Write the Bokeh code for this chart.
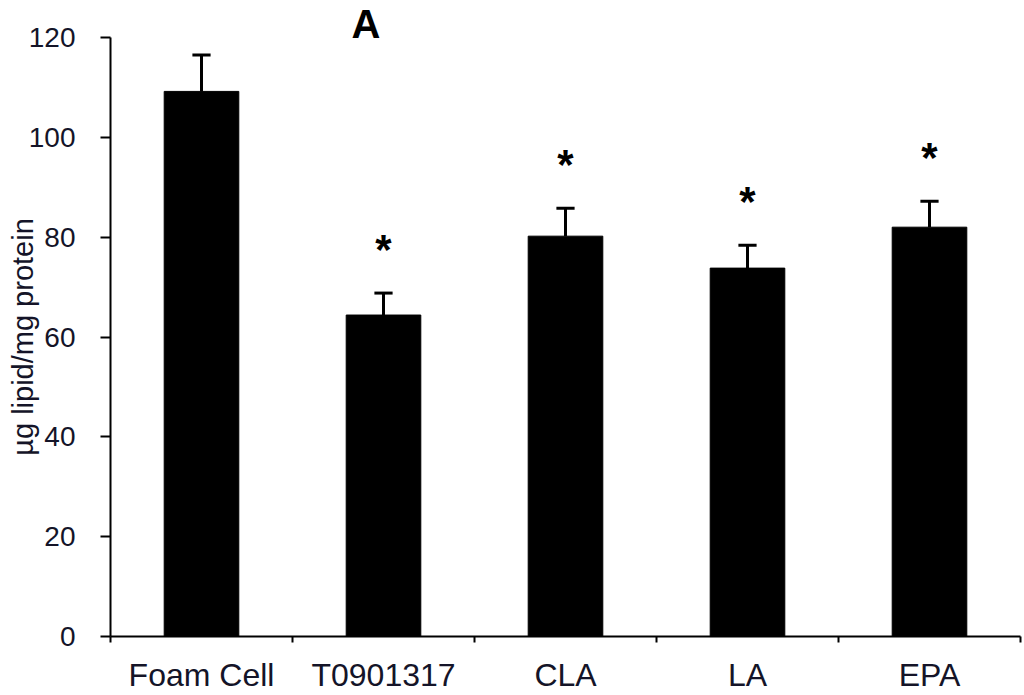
from bokeh.plotting import figure
from bokeh.models import ColumnDataSource, FixedTicker, Range1d
from bokeh.core.properties import value
from bokeh.embed import file_html
from bokeh.resources import INLINE

# ---- data ----
categories = ["Foam Cell", "T0901317", "CLA", "LA", "EPA"]
means = [109.2, 64.4, 80.2, 73.8, 82.0]
sem = [7.3, 4.4, 5.6, 4.6, 5.2]
significant = [False, True, True, True, True]
y_ticks = [0, 20, 40, 60, 80, 100, 120]
panel_label = "A"
y_title = "\u00b5g lipid/mg protein"

# ---- derived ----
xs = [i + 0.5 for i in range(len(categories))]
uppers = [m + s for m, s in zip(means, sem)]
BAR_W = 0.41
CAP = 0.05
STAR_GAP = 8.8
src = ColumnDataSource(dict(x=xs, top=means, upper=uppers,
                            cl=[x - CAP for x in xs], cr=[x + CAP for x in xs]))
star_x = [x for x, s in zip(xs, significant) if s]
star_y = [u + STAR_GAP for u, s in zip(uppers, significant) if s]
star_src = ColumnDataSource(dict(x=star_x, y=star_y, t=["*"] * len(star_x)))

FONT = "Liberation Sans"
TXT = "#141428"

p = figure(width=1022, height=695, output_backend="svg", toolbar_location=None,
           x_range=Range1d(0, len(categories)), y_range=Range1d(0, 120),
           min_border_left=110, min_border_right=2, min_border_top=37,
           min_border_bottom=50)
p.outline_line_color = None
p.grid.visible = False
p.background_fill_color = "white"
p.border_fill_color = "white"

# panel letter as the plot title
p.title.text = panel_label
p.title.text_font = FONT
p.title.text_font_size = "40px"
p.title.text_font_style = "bold"
p.title.text_color = "black"
p.title.align = "left"
p.title.offset = 241
p.title.standoff = -16

p.vbar(x="x", top="top", width=BAR_W, bottom=0, source=src,
       fill_color="black", line_color="black")
p.segment(x0="x", y0="top", x1="x", y1="upper", source=src,
          line_color="black", line_width=3)
p.segment(x0="cl", y0="upper", x1="cr", y1="upper", source=src,
          line_color="black", line_width=3)
p.text(x="x", y="y", text="t", source=star_src, text_align="center",
       text_baseline="alphabetic", text_font=value(FONT),
       text_font_size="42px", text_font_style="bold", text_color="black")

# y axis
ya = p.yaxis[0]
ya.ticker = FixedTicker(ticks=y_ticks)
ya.axis_line_width = 2
ya.axis_line_color = "black"
ya.major_tick_line_width = 2
ya.major_tick_out = 10
ya.major_tick_in = 0
ya.minor_tick_out = 0
ya.minor_tick_in = 0
ya.major_label_text_font = FONT
ya.major_label_text_font_size = "28px"
ya.major_label_text_color = TXT
ya.major_label_standoff = 25
ya.axis_label = y_title
ya.axis_label_text_font = FONT
ya.axis_label_text_font_size = "29px"
ya.axis_label_text_font_style = "normal"
ya.axis_label_text_color = TXT
ya.axis_label_standoff = -13

# x axis: labels at centres, ticks at category boundaries
xa = p.xaxis[0]
xa.ticker = FixedTicker(ticks=xs, minor_ticks=list(range(len(categories) + 1)))
xa.major_label_overrides = {x: c for x, c in zip(xs, categories)}
xa.axis_line_width = 2
xa.axis_line_color = "black"
xa.major_tick_out = 0
xa.major_tick_in = 0
xa.minor_tick_out = 6
xa.minor_tick_in = 0
xa.minor_tick_line_width = 2
xa.minor_tick_line_color = "black"
xa.major_label_text_font = FONT
xa.major_label_text_font_size = "32px"
xa.major_label_text_color = TXT
xa.major_label_standoff = 14

open("out.html", "w").write(file_html(p, INLINE))
